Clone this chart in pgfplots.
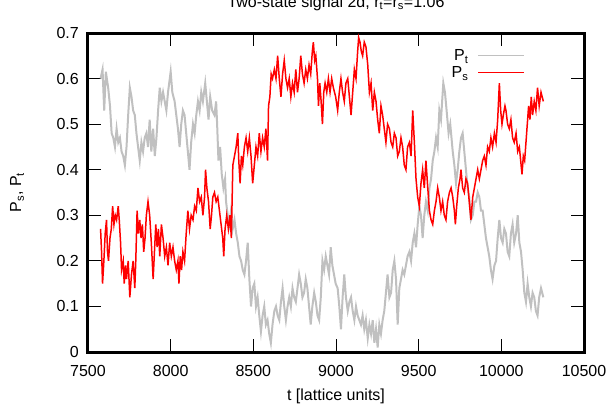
\documentclass[border=0pt]{standalone}
\usepackage{fontspec}
\setmainfont{Liberation Sans}
\usepackage{pgfplots}
\pgfplotsset{compat=1.18}
\definecolor{pgray}{RGB}{192,192,192}
\definecolor{pred}{RGB}{255,0,0}
\newcommand{\fs}{\fontsize{16bp}{19bp}\selectfont}
\begin{document}
\begin{tikzpicture}
\path[use as bounding box] (-88bp,-56bp) rectangle (524bp,352bp);
\begin{axis}[
  scale only axis,
  width=496bp, height=319bp,
  at={(0,0)}, anchor=south west,
  xmin=7500, xmax=10500, ymin=0, ymax=0.7,
  xtick={7500,8000,8500,9000,9500,10000,10500},
  ytick={0,0.1,0.2,0.3,0.4,0.5,0.6,0.7},
  yticklabels={0,0.1,0.2,0.3,0.4,0.5,0.6,0.7},
  xticklabels={7500,8000,8500,9000,9500,10000,10500},
  scaled x ticks=false, scaled y ticks=false,
  tick pos=both, tick align=inside,
  major tick length=13bp,
  tick style={black, line width=0.8bp},
  axis line style={black, line width=3bp},
  /pgf/number format/assume math mode=true,
  xticklabel style={font=\fs, anchor=base, yshift=-24bp, inner sep=0pt},
  yticklabel style={font=\fs, anchor=east, xshift=-9bp, inner sep=0pt},
  title={Two-state signal 2d, \={r}\textsubscript{t}=\={r}\textsubscript{s}=1.06},
  title style={font=\fs, at={(axis description cs:0.5,1)}, anchor=base, yshift=19.7bp, inner sep=0pt},
  xlabel={t [lattice units]},
  xlabel style={font=\fs, at={(axis description cs:0.5,0)}, anchor=base, yshift=-48bp, inner sep=0pt},
  ylabel={P\textsubscript{s}, P\textsubscript{t}},
  ylabel style={font=\fs, at={(axis description cs:-0.143,0.5)}, anchor=center, inner sep=0pt},
  legend style={draw=none, fill=none, font=\fs, at={(axis description cs:0.881,0.9475)}, anchor=north east,
    inner sep=0pt, row sep=0pt, column sep=9bp, nodes={inner sep=0pt, text height=11bp, text depth=6bp}},
  legend cell align=right,
  legend plot pos=right,
  legend image code/.code={\draw[#1, line width=1.3bp] (0bp,3bp) -- (46bp,3bp);},
  clip=true,
]
\addplot[pgray, line width=2bp] coordinates {
(7576,0.60) (7588,0.62) (7598,0.53) (7608,0.615) (7622,0.58) (7633,0.54) (7643,0.48) (7653,0.47)
(7663,0.45) (7673,0.49) (7683,0.46) (7693,0.47) (7703,0.44) (7713,0.43) (7723,0.41) (7733,0.45)
(7743,0.52) (7753,0.58) (7763,0.56) (7773,0.53) (7783,0.52) (7793,0.48) (7803,0.45) (7813,0.42)
(7823,0.46) (7833,0.44) (7843,0.47) (7853,0.48) (7863,0.45) (7873,0.51) (7883,0.44) (7894,0.49)
(7904,0.43) (7914,0.47) (7924,0.53) (7934,0.58) (7944,0.55) (7954,0.57) (7964,0.55) (7974,0.53)
(7984,0.57) (8000,0.615) (8010,0.57) (8024,0.55) (8034,0.52) (8044,0.49) (8054,0.45) (8064,0.50)
(8074,0.53) (8084,0.52) (8094,0.48) (8104,0.44) (8114,0.40) (8124,0.46) (8135,0.50) (8145,0.48)
(8155,0.52) (8165,0.55) (8175,0.53) (8185,0.57) (8195,0.55) (8209,0.59) (8219,0.55) (8229,0.51)
(8239,0.56) (8251,0.53) (8265,0.52) (8275,0.55) (8281,0.50) (8289,0.42) (8299,0.45) (8309,0.39)
(8319,0.36) (8329,0.38) (8335,0.33) (8345,0.30) (8355,0.28) (8365,0.31) (8375,0.27) (8386,0.29)
(8396,0.26) (8406,0.24) (8416,0.21) (8426,0.20) (8436,0.18) (8446,0.17) (8456,0.20) (8466,0.24)
(8476,0.16) (8486,0.10) (8496,0.14) (8506,0.15) (8516,0.10) (8526,0.12) (8536,0.08) (8546,0.045)
(8556,0.08) (8566,0.10) (8576,0.06) (8586,0.07) (8596,0.04) (8606,0.02) (8616,0.06) (8627,0.09)
(8637,0.10) (8647,0.08) (8657,0.07) (8667,0.11) (8677,0.14) (8687,0.10) (8697,0.07) (8707,0.10)
(8717,0.12) (8727,0.10) (8737,0.14) (8747,0.12) (8757,0.11) (8767,0.14) (8777,0.17) (8787,0.15)
(8797,0.12) (8807,0.13) (8817,0.16) (8827,0.14) (8837,0.10) (8847,0.06) (8857,0.10) (8868,0.13)
(8878,0.11) (8888,0.08) (8898,0.07) (8908,0.12) (8918,0.20) (8928,0.18) (8938,0.21) (8948,0.19)
(8958,0.17) (8968,0.23) (8978,0.19) (8988,0.17) (8998,0.15) (9010,0.14) (9020,0.10) (9030,0.05)
(9040,0.12) (9050,0.17) (9060,0.12) (9071,0.09) (9081,0.11) (9091,0.12) (9101,0.09) (9111,0.07)
(9121,0.10) (9131,0.08) (9141,0.07) (9151,0.06) (9161,0.08) (9171,0.05) (9181,0.07) (9192,0.03)
(9202,0.06) (9212,0.04) (9222,0.07) (9232,0.02) (9242,0.05) (9252,0.01) (9262,0.06) (9272,0.04)
(9282,0.07) (9292,0.09) (9302,0.13) (9312,0.17) (9323,0.12) (9333,0.13) (9343,0.18) (9353,0.20)
(9363,0.16) (9373,0.06) (9383,0.14) (9393,0.16) (9403,0.18) (9413,0.17) (9423,0.19) (9433,0.21)
(9444,0.22) (9454,0.20) (9464,0.24) (9474,0.26) (9484,0.23) (9494,0.28) (9504,0.32) (9514,0.30)
(9524,0.25) (9534,0.30) (9544,0.33) (9555,0.31) (9565,0.36) (9575,0.38) (9585,0.42) (9595,0.44)
(9605,0.47) (9615,0.45) (9625,0.53) (9635,0.51) (9649,0.59) (9659,0.57) (9669,0.53) (9681,0.48)
(9691,0.50) (9706,0.44) (9716,0.41) (9726,0.37) (9736,0.40) (9746,0.44) (9756,0.47) (9766,0.48)
(9776,0.44) (9786,0.40) (9796,0.36) (9806,0.34) (9816,0.29) (9827,0.30) (9837,0.33) (9847,0.33)
(9857,0.35) (9867,0.34) (9877,0.31) (9887,0.31) (9897,0.28) (9907,0.25) (9917,0.23) (9927,0.21)
(9937,0.18) (9947,0.16) (9958,0.19) (9968,0.20) (9978,0.25) (9988,0.29) (9998,0.25) (10008,0.24)
(10018,0.27) (10028,0.26) (10038,0.22) (10048,0.21) (10058,0.26) (10068,0.28) (10078,0.24) (10089,0.26)
(10099,0.30) (10109,0.24) (10119,0.22) (10129,0.18) (10139,0.13) (10149,0.11) (10159,0.15) (10169,0.12)
(10179,0.10) (10189,0.13) (10199,0.12) (10209,0.09) (10219,0.08) (10229,0.12) (10240,0.14) (10254,0.12)
};
\addlegendentry{P\textsubscript{t}}
\addplot[pred, line width=1.5bp] coordinates {
(7576,0.27) (7582,0.22) (7588,0.15) (7596,0.20) (7604,0.26) (7612,0.29) (7618,0.22) (7624,0.20)
(7633,0.25) (7641,0.27) (7649,0.32) (7657,0.28) (7665,0.30) (7673,0.29) (7683,0.32) (7689,0.29)
(7697,0.24) (7703,0.18) (7713,0.20) (7719,0.15) (7727,0.19) (7733,0.16) (7743,0.20) (7753,0.12)
(7763,0.17) (7773,0.20) (7783,0.14) (7789,0.20) (7797,0.31) (7805,0.26) (7813,0.29) (7821,0.25)
(7829,0.28) (7837,0.22) (7845,0.25) (7853,0.30) (7863,0.33) (7873,0.30) (7883,0.24) (7894,0.16)
(7902,0.22) (7910,0.28) (7918,0.23) (7926,0.27) (7934,0.21) (7944,0.28) (7954,0.25) (7964,0.21)
(7974,0.23) (7984,0.19) (7994,0.24) (8004,0.21) (8014,0.23) (8024,0.20) (8034,0.18) (8044,0.20)
(8050,0.15) (8058,0.21) (8066,0.18) (8074,0.22) (8084,0.20) (8094,0.26) (8104,0.31) (8114,0.27)
(8124,0.30) (8135,0.29) (8145,0.32) (8155,0.31) (8165,0.36) (8175,0.33) (8185,0.34) (8195,0.30)
(8205,0.34) (8211,0.40) (8219,0.36) (8229,0.33) (8239,0.27) (8247,0.30) (8255,0.34) (8265,0.35)
(8275,0.33) (8285,0.34) (8295,0.31) (8305,0.28) (8315,0.25) (8321,0.21) (8329,0.27) (8339,0.30)
(8349,0.27) (8359,0.30) (8367,0.25) (8376,0.41) (8386,0.43) (8396,0.45) (8406,0.48) (8412,0.42)
(8420,0.37) (8428,0.43) (8436,0.41) (8446,0.45) (8456,0.47) (8466,0.44) (8476,0.47) (8486,0.43)
(8496,0.37) (8506,0.41) (8516,0.45) (8526,0.43) (8536,0.48) (8546,0.44) (8556,0.47) (8566,0.45)
(8576,0.49) (8586,0.42) (8592,0.54) (8600,0.56) (8608,0.61) (8616,0.60) (8627,0.62) (8637,0.60)
(8647,0.65) (8657,0.60) (8667,0.56) (8677,0.61) (8687,0.64) (8697,0.60) (8707,0.58) (8717,0.60)
(8727,0.56) (8737,0.59) (8747,0.57) (8757,0.62) (8767,0.57) (8777,0.60) (8787,0.65) (8797,0.61)
(8807,0.59) (8817,0.62) (8827,0.60) (8837,0.63) (8847,0.61) (8857,0.66) (8863,0.68) (8871,0.64)
(8878,0.65) (8888,0.60) (8894,0.54) (8902,0.59) (8910,0.55) (8918,0.50) (8926,0.57) (8934,0.59)
(8944,0.57) (8954,0.60) (8964,0.57) (8974,0.60) (8984,0.58) (8998,0.56) (9010,0.53) (9020,0.57)
(9030,0.60) (9040,0.57) (9050,0.55) (9060,0.59) (9071,0.60) (9081,0.56) (9091,0.52) (9101,0.57)
(9111,0.62) (9121,0.60) (9131,0.66) (9137,0.69) (9145,0.68) (9153,0.66) (9161,0.65) (9171,0.68)
(9181,0.67) (9192,0.63) (9202,0.57) (9212,0.59) (9222,0.53) (9232,0.57) (9242,0.55) (9252,0.51)
(9262,0.48) (9272,0.54) (9282,0.52) (9292,0.49) (9302,0.46) (9312,0.50) (9323,0.49) (9333,0.46)
(9343,0.45) (9353,0.48) (9363,0.47) (9373,0.43) (9383,0.44) (9393,0.47) (9403,0.45) (9413,0.41)
(9423,0.40) (9433,0.45) (9444,0.46) (9454,0.43) (9464,0.53) (9474,0.46) (9484,0.38) (9494,0.34)
(9504,0.32) (9514,0.37) (9524,0.40) (9534,0.36) (9544,0.42) (9555,0.36) (9565,0.31) (9575,0.29)
(9585,0.28) (9595,0.31) (9605,0.33) (9615,0.36) (9625,0.34) (9635,0.31) (9645,0.33) (9655,0.30)
(9665,0.29) (9675,0.33) (9686,0.35) (9696,0.36) (9706,0.34) (9716,0.31) (9722,0.28) (9730,0.32)
(9740,0.36) (9750,0.38) (9756,0.40) (9766,0.36) (9776,0.35) (9786,0.38) (9796,0.37) (9806,0.33)
(9816,0.29) (9827,0.34) (9837,0.36) (9847,0.38) (9857,0.40) (9867,0.38) (9877,0.40) (9887,0.42)
(9897,0.43) (9907,0.41) (9917,0.45) (9927,0.44) (9937,0.47) (9947,0.45) (9958,0.48) (9968,0.46)
(9978,0.51) (9988,0.59) (9996,0.53) (10004,0.50) (10012,0.52) (10022,0.54) (10028,0.53) (10038,0.50)
(10048,0.49) (10058,0.51) (10068,0.47) (10078,0.46) (10089,0.48) (10099,0.44) (10109,0.45) (10117,0.42)
(10125,0.39) (10133,0.43) (10141,0.42) (10149,0.46) (10157,0.50) (10165,0.54) (10173,0.51) (10181,0.56)
(10189,0.52) (10199,0.55) (10209,0.53) (10219,0.58) (10229,0.54) (10240,0.57) (10254,0.55)
};
\addlegendentry{P\textsubscript{s}}
\end{axis}
\end{tikzpicture}
\end{document}
